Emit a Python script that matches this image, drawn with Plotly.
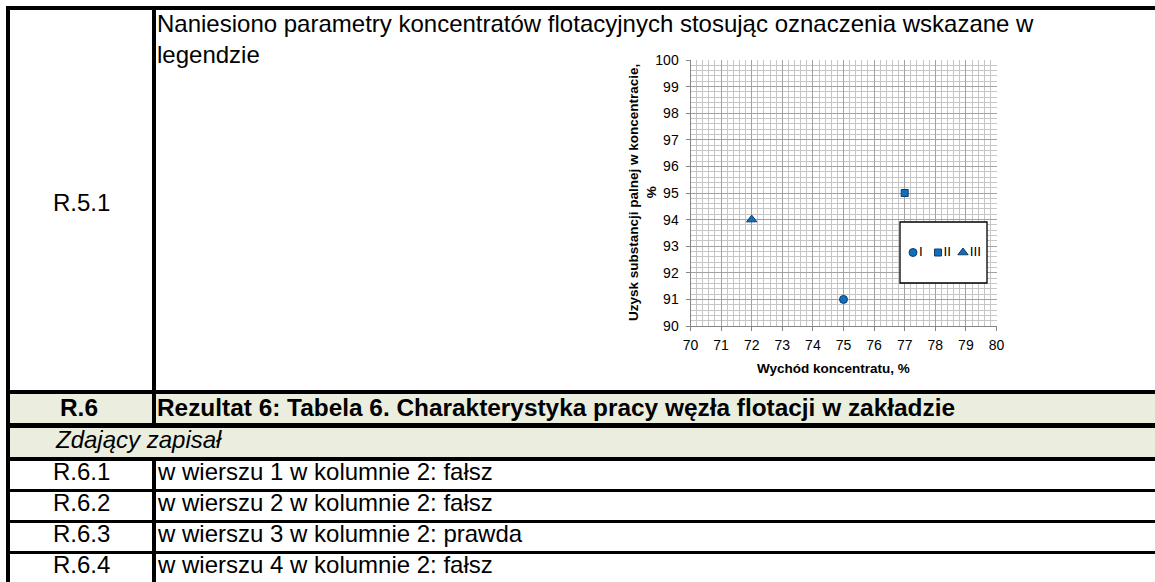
import plotly.graph_objects as go

# ---------------- data ----------------
series = ["I", "II", "III"]
wychod = [75, 77, 72]          # Wychód koncentratu, %
uzysk = [91, 95, 94]           # Uzysk substancji palnej w koncentracie, %
symbols = ["circle", "square", "triangle-up"]
marker_sizes = [8, 7, 9]

x_range = [70, 80]
y_range = [90, 100]
x_title = "Wychód koncentratu, %"
y_title = "Uzysk substancji palnej w koncentracie,<br>%"

intro_lines = [
    "Naniesiono parametry koncentratów flotacyjnych stosując oznaczenia wskazane w",
    "legendzie",
]
code_r51 = "R.5.1"
code_r6 = "R.6"
head_r6 = "Rezultat 6: Tabela 6. Charakterystyka pracy węzła flotacji w zakładzie"
sub_r6 = "Zdający zapisał"
row_codes = ["R.6.1", "R.6.2", "R.6.3", "R.6.4"]
row_texts = [
    "w wierszu 1 w kolumnie 2: fałsz",
    "w wierszu 2 w kolumnie 2: fałsz",
    "w wierszu 3 w kolumnie 2: prawda",
    "w wierszu 4 w kolumnie 2: fałsz",
]

# ---------------- geometry helpers (pixels -> paper) ----------------
W, H = 1155, 582
FONT = "Liberation Sans, Arial, sans-serif"


def fx(px):
    return px / W


def fy(py):
    return 1 - py / H


MARKER_FILL = "#0A70C2"
MARKER_LINE = "#1B3A5E"

fig = go.Figure()

for name, xv, yv, sym, ms in zip(series, wychod, uzysk, symbols, marker_sizes):
    fig.add_trace(go.Scatter(
        x=[xv], y=[yv], mode="markers", name=name,
        marker=dict(symbol=sym, size=ms, color=MARKER_FILL,
                    line=dict(color=MARKER_LINE, width=1)),
        xaxis="x", yaxis="y", showlegend=False, hoverinfo="skip",
    ))

# custom compact legend drawn on an auxiliary (hidden) axis pair
for i, (name, sym, ms) in enumerate(zip(series, symbols, marker_sizes)):
    fig.add_trace(go.Scatter(
        x=[i], y=[0], mode="markers+text", text=[name],
        textposition="middle right",
        textfont=dict(family=FONT, size=13.5, color="#000000"),
        marker=dict(symbol=sym, size=ms, color=MARKER_FILL,
                    line=dict(color=MARKER_LINE, width=1)),
        xaxis="x2", yaxis="y2", showlegend=False, hoverinfo="skip",
    ))

MAJOR = "#a2a2a2"
MINOR = "#c6c6c6"
AXIS = "#868686"

axis_common = dict(
    showgrid=True, gridcolor=MAJOR, gridwidth=1,
    zeroline=False, showline=True, linecolor=AXIS, linewidth=1,
    ticks="outside", ticklen=4, tickcolor=AXIS, tickwidth=1,
    tickfont=dict(family=FONT, size=14, color="#000000"),
    fixedrange=True, automargin=False,
)

# legend box pixel extents
LX0, LX1, LY0, LY1 = 900, 987, 222, 283
lx_center0 = 913.0
lx_step = 25.0

shapes = []
# legend box fill (on the auxiliary axes so it sits above the main grid)
shapes.append(dict(type="rect", xref="x2 domain", yref="y2 domain",
                   x0=0, x1=1, y0=0, y1=1, layer="below",
                   fillcolor="#ffffff", line=dict(width=0)))
# legend box outline
shapes.append(dict(type="rect", xref="paper", yref="paper",
                   x0=fx(LX0), x1=fx(LX1), y0=fy(LY1), y1=fy(LY0), layer="above",
                   fillcolor="rgba(0,0,0,0)", line=dict(color="#000000", width=1.3)))

# table backgrounds
FILL = "#EBEEDE"
for (y0, y1) in [(394, 423), (428, 457)]:
    shapes.append(dict(type="rect", xref="paper", yref="paper",
                       x0=fx(10), x1=fx(W), y0=fy(y1), y1=fy(y0),
                       fillcolor=FILL, line=dict(width=0), layer="below"))

# table borders (black bars)
bars = [
    (6, W, 6, 10),        # top
    (6, 10, 6, H),        # left
    (152, 156, 6, 428),   # column divider upper
    (152, 156, 461, H),   # column divider lower
    (6, W, 390, 394),
    (6, W, 423, 428),
    (6, W, 457, 461),
    (6, W, 489, 492),
    (6, W, 520, 523),
    (6, W, 551, 554),
]
for (x0, x1, y0, y1) in bars:
    shapes.append(dict(type="rect", xref="paper", yref="paper",
                       x0=fx(x0), x1=fx(x1), y0=fy(y1), y1=fy(y0),
                       fillcolor="#000000", line=dict(width=0), layer="above"))

annotations = []


def txt(text, x, y, size=24, anchor="left", color="#000000"):
    annotations.append(dict(text=text, x=fx(x), y=fy(y), xref="paper", yref="paper",
                            xanchor=anchor, yanchor="middle", showarrow=False,
                            borderpad=0,
                            font=dict(family=FONT, size=size, color=color)))


TS = 24
HS = 24.4
off = 0.35 * TS
txt(intro_lines[0], 156, 31.5 - off, TS)
txt(intro_lines[1], 156, 63 - off, TS)
txt(code_r51, 81, 211 - off, TS, "center")
txt("<b>" + code_r6 + "</b>", 79, 416 - off, HS, "center")
txt("<b>" + head_r6 + "</b>", 156, 416 - off, HS)
txt("<i>" + sub_r6 + "</i>", 54, 448 - off, TS)
for code, text, base in zip(row_codes, row_texts, [480, 511, 542, 573]):
    txt(code, 81, base - off, TS, "center")
    txt(text, 156, base - off, TS)

# axis titles
annotations.append(dict(text="<b>" + y_title + "</b>", x=fx(643), y=fy(193),
                        xref="paper", yref="paper", xanchor="center", yanchor="middle",
                        textangle=-90, showarrow=False,
                        font=dict(family=FONT, size=13.5, color="#000000")))
annotations.append(dict(text="<b>" + x_title + "</b>", x=fx(833), y=fy(368),
                        xref="paper", yref="paper", xanchor="center", yanchor="middle",
                        showarrow=False,
                        font=dict(family=FONT, size=13.5, color="#000000")))

fig.update_layout(
    width=W, height=H,
    margin=dict(l=0, r=0, t=0, b=0, pad=0),
    paper_bgcolor="#ffffff", plot_bgcolor="#ffffff",
    showlegend=False,
    xaxis=dict(domain=[fx(690.5), fx(996.5)], range=x_range, dtick=1, tick0=70,
               anchor="y", ticklabelstandoff=2,
               minor=dict(dtick=0.2, showgrid=True, gridcolor=MINOR, gridwidth=1, ticks=""),
               **axis_common),
    yaxis=dict(domain=[fy(326), fy(60)], range=y_range, dtick=1, tick0=90,
               anchor="x", ticklabelstandoff=4,
               minor=dict(dtick=0.2, showgrid=True, gridcolor=MINOR, gridwidth=1, ticks=""),
               **axis_common),
    xaxis2=dict(domain=[fx(LX0), fx(LX1)],
                range=[-(lx_center0 - LX0) / lx_step, (LX1 - lx_center0) / lx_step],
                visible=False, fixedrange=True, anchor="y2"),
    yaxis2=dict(domain=[fy(LY1), fy(LY0)], range=[-1, 1],
                visible=False, fixedrange=True, anchor="x2"),
    shapes=shapes,
    annotations=annotations,
    font=dict(family=FONT),
)

fig.write_html(
    "out.html",
    config={"displayModeBar": False, "staticPlot": True},
    post_script="document.body.style.margin='0';document.body.style.overflow='hidden';",
)
